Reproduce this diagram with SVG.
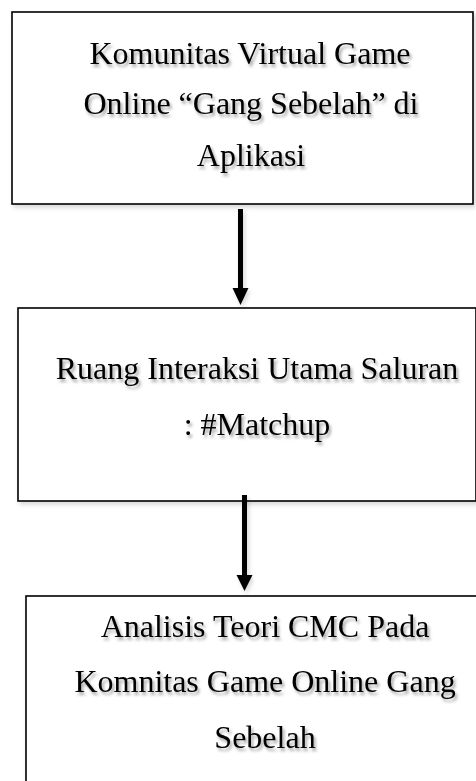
<svg xmlns="http://www.w3.org/2000/svg" width="476" height="781" viewBox="0 0 476 781">
<defs>
<filter id="ts" x="-10%" y="-30%" width="130%" height="170%">
<feDropShadow dx="2" dy="3" stdDeviation="1.5" flood-color="#000" flood-opacity="0.35"/>
</filter>
<filter id="bs" x="-5%" y="-5%" width="110%" height="110%">
<feDropShadow dx="2" dy="3" stdDeviation="2" flood-color="#000" flood-opacity="0.15"/>
</filter>
</defs>
<style>
.box{fill:#fff;stroke:#000;stroke-width:1.6;}
.t{font-family:"Liberation Serif","Times New Roman",serif;font-size:32px;fill:#000;text-anchor:middle;}
.shaft{stroke:#000;stroke-width:5;}
.head{fill:#000;}
</style>
<rect width="476" height="781" fill="#fff"/>
<g id="node1">
<rect class="box" x="12" y="12" width="461" height="192" filter="url(#bs)"/>
<g filter="url(#ts)">
<text class="t" x="250" y="64">Komunitas Virtual Game</text>
<text class="t" x="251" y="114">Online “Gang Sebelah” di</text>
<text class="t" x="251" y="166">Aplikasi</text>
</g>
</g>
<g id="node2">
<rect class="box" x="18" y="308" width="458" height="193" filter="url(#bs)"/>
<g filter="url(#ts)">
<text class="t" x="257" y="379">Ruang Interaksi Utama Saluran</text>
<text class="t" x="257" y="435">: #Matchup</text>
</g>
</g>
<g id="node3">
<rect class="box" x="26" y="596" width="470" height="210" filter="url(#bs)"/>
<g filter="url(#ts)">
<text class="t" x="265" y="637">Analisis Teori CMC Pada</text>
<text class="t" x="265" y="692">Komnitas Game Online Gang</text>
<text class="t" x="265" y="748">Sebelah</text>
</g>
</g>
<g id="connectors" filter="url(#bs)">
<line class="shaft" x1="240.5" y1="209" x2="240.5" y2="290"/>
<polygon class="head" points="232.5,288 248.5,288 240.5,305"/>
<line class="shaft" x1="244.5" y1="495" x2="244.5" y2="577"/>
<polygon class="head" points="236.5,575 252.5,575 244.5,591"/>
</g>
</svg>
